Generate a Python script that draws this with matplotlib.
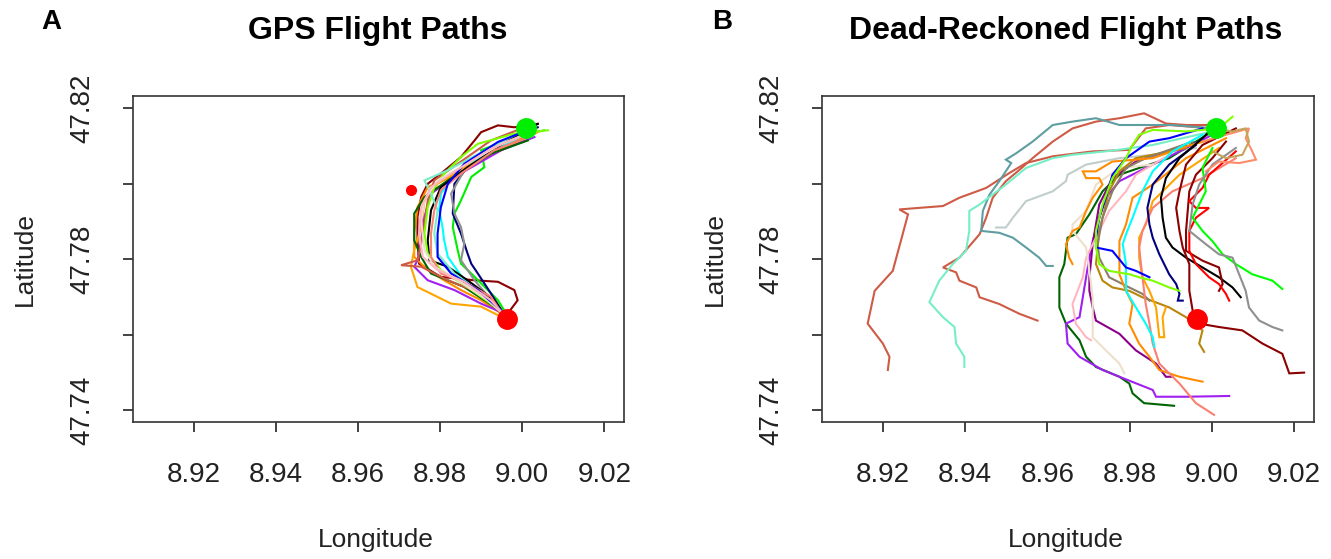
import matplotlib
matplotlib.use("Agg")
import matplotlib.pyplot as plt

plt.rcParams['font.family'] = ['Liberation Sans', 'DejaVu Sans']

# ---- data: (longitude, latitude) waypoints ----
start_point = (9.0010, 47.8147)      # green dot
end_point = (8.9963, 47.7642)        # red dot
gps_turn_point = (8.9729, 47.7984)   # small red dot, GPS panel

# GPS flight paths (panel A)
gps_darkred = [(9.0038, 47.8159), (8.9981, 47.8150), (8.9941, 47.8155), (8.9900, 47.8137), (8.9884, 47.8115),
               (8.9851, 47.8071), (8.9802, 47.8027), (8.9770, 47.8000), (8.9754, 47.7965), (8.9745, 47.7912),
               (8.9745, 47.7850), (8.9749, 47.7788), (8.9802, 47.7753), (8.9884, 47.7744), (8.9941, 47.7740),
               (8.9981, 47.7718), (8.9989, 47.7691), (8.9965, 47.7656)]
gps_green = [(9.0054, 47.8142), (8.9981, 47.8124), (8.9900, 47.8089), (8.9908, 47.8044), (8.9876, 47.8018),
             (8.9851, 47.7956), (8.9835, 47.7921), (8.9831, 47.7885), (8.9843, 47.7824), (8.9851, 47.7788),
             (8.9876, 47.7762), (8.9941, 47.7691), (8.9961, 47.7656)]
gps_navy = [(9.0038, 47.8150), (8.9965, 47.8115), (8.9867, 47.8044), (8.9835, 47.8000), (8.9831, 47.7921),
            (8.9851, 47.7868), (8.9867, 47.7815), (8.9876, 47.7788), (8.9892, 47.7762), (8.9924, 47.7709),
            (8.9949, 47.7665)]
gps_gray = [(9.0030, 47.8142), (8.9941, 47.8106), (8.9859, 47.8036), (8.9827, 47.7974), (8.9835, 47.7921),
            (8.9851, 47.7885), (8.9859, 47.7841), (8.9851, 47.7797), (8.9884, 47.7744), (8.9932, 47.7682),
            (8.9957, 47.7656)]
gps_cyan = [(9.0030, 47.8133), (8.9941, 47.8097), (8.9843, 47.8036), (8.9802, 47.7974), (8.9798, 47.7930),
            (8.9806, 47.7885), (8.9810, 47.7850), (8.9819, 47.7806), (8.9859, 47.7744), (8.9932, 47.7674),
            (8.9957, 47.7647)]
gps_orange1 = [(9.0022, 47.8133), (8.9941, 47.8089), (8.9827, 47.8018), (8.9770, 47.7991), (8.9745, 47.7938),
               (8.9737, 47.7868), (8.9737, 47.7806), (8.9770, 47.7771), (8.9810, 47.7744), (8.9851, 47.7718),
               (8.9900, 47.7691), (8.9949, 47.7656)]
gps_orange2 = [(9.0038, 47.8137), (8.9965, 47.8097), (8.9859, 47.8044), (8.9794, 47.8000), (8.9762, 47.7956),
               (8.9754, 47.7885), (8.9737, 47.7824), (8.9729, 47.7780), (8.9745, 47.7726), (8.9827, 47.7682),
               (8.9900, 47.7674), (8.9949, 47.7647)]
gps_purple = [(9.0030, 47.8124), (8.9949, 47.8089), (8.9835, 47.8018), (8.9778, 47.7974), (8.9762, 47.7912),
              (8.9754, 47.7850), (8.9745, 47.7797), (8.9737, 47.7780), (8.9770, 47.7744), (8.9835, 47.7718),
              (8.9900, 47.7682), (8.9957, 47.7656)]
gps_darkgreen = [(9.0014, 47.8115), (8.9924, 47.8080), (8.9819, 47.8009), (8.9762, 47.7965), (8.9737, 47.7921),
                 (8.9737, 47.7850), (8.9754, 47.7806), (8.9778, 47.7762), (8.9859, 47.7726), (8.9957, 47.7656)]
gps_sienna = [(9.0006, 47.8150), (8.9924, 47.8115), (8.9843, 47.8053), (8.9786, 47.8009), (8.9770, 47.7956),
              (8.9762, 47.7894), (8.9754, 47.7841), (8.9745, 47.7797), (8.9705, 47.7784), (8.9754, 47.7780),
              (8.9819, 47.7744), (8.9900, 47.7709), (8.9949, 47.7656)]
gps_black = [(9.0038, 47.8159), (8.9965, 47.8115), (8.9867, 47.8044), (8.9802, 47.7991), (8.9778, 47.7930),
             (8.9770, 47.7850), (8.9774, 47.7797), (8.9819, 47.7780), (8.9867, 47.7744), (8.9932, 47.7691),
             (8.9961, 47.7647)]
gps_chartreuse = [(9.0063, 47.8142), (8.9981, 47.8133), (8.9892, 47.8106), (8.9851, 47.8071), (8.9810, 47.8027),
                  (8.9786, 47.7991), (8.9770, 47.7938), (8.9762, 47.7868), (8.9770, 47.7815), (8.9802, 47.7771),
                  (8.9867, 47.7726), (8.9957, 47.7656)]
gps_aquamarine = [(9.0006, 47.8142), (8.9924, 47.8097), (8.9819, 47.8036), (8.9762, 47.8009), (8.9778, 47.7974),
                  (8.9794, 47.7930), (8.9786, 47.7868), (8.9794, 47.7815), (8.9835, 47.7762), (8.9900, 47.7709),
                  (8.9957, 47.7656)]
gps_salmon = [(9.0014, 47.8124), (8.9932, 47.8089), (8.9851, 47.8027), (8.9802, 47.7983), (8.9786, 47.7930),
              (8.9778, 47.7868), (8.9778, 47.7806), (8.9802, 47.7762), (8.9867, 47.7735), (8.9924, 47.7700),
              (8.9957, 47.7647)]
gps_tan = [(9.0022, 47.8137), (8.9949, 47.8106), (8.9851, 47.8044), (8.9794, 47.8009), (8.9762, 47.7956),
           (8.9754, 47.7903), (8.9762, 47.7824), (8.9786, 47.7780), (8.9843, 47.7744), (8.9916, 47.7691),
           (8.9957, 47.7651)]
gps_blue = [(9.0022, 47.8146), (8.9941, 47.8111), (8.9859, 47.8053), (8.9819, 47.8000), (8.9802, 47.7938),
            (8.9794, 47.7868), (8.9794, 47.7806), (8.9827, 47.7762), (8.9892, 47.7718), (8.9957, 47.7656)]
gps_pink = [(9.0014, 47.8133), (8.9924, 47.8093), (8.9827, 47.8027), (8.9778, 47.7991), (8.9754, 47.7938),
            (8.9749, 47.7868), (8.9758, 47.7806), (8.9794, 47.7771), (8.9859, 47.7740), (8.9924, 47.7691),
            (8.9957, 47.7651)]

# Dead-reckoned flight paths (panel B)
dr_sienna1 = [(9.0001, 47.8147), (8.9896, 47.8156), (8.9839, 47.8147), (8.9799, 47.8090), (8.9710, 47.8086),
              (8.9613, 47.8073), (8.9548, 47.8055), (8.9508, 47.8029), (8.9451, 47.7989), (8.9386, 47.7963),
              (8.9346, 47.7941), (8.9240, 47.7932), (8.9261, 47.7919), (8.9248, 47.7866), (8.9224, 47.7769),
              (8.9180, 47.7716), (8.9163, 47.7629), (8.9200, 47.7576), (8.9216, 47.7541), (8.9212, 47.7506)]
dr_sienna2 = [(9.0001, 47.8156), (8.9937, 47.8156), (8.9888, 47.8160), (8.9835, 47.8187), (8.9775, 47.8174),
              (8.9718, 47.8165), (8.9661, 47.8147), (8.9613, 47.8112), (8.9564, 47.8068), (8.9532, 47.8037),
              (8.9499, 47.8007), (8.9467, 47.7963), (8.9451, 47.7910), (8.9435, 47.7866), (8.9386, 47.7804),
              (8.9346, 47.7778), (8.9378, 47.7765), (8.9386, 47.7743), (8.9427, 47.7725), (8.9435, 47.7699),
              (8.9483, 47.7681), (8.9532, 47.7655), (8.9576, 47.7637)]
dr_cadetblue = [(9.0001, 47.8147), (8.9904, 47.8156), (8.9823, 47.8156), (8.9775, 47.8156), (8.9718, 47.8174),
                (8.9661, 47.8165), (8.9613, 47.8156), (8.9564, 47.8112), (8.9524, 47.8081), (8.9499, 47.8064),
                (8.9512, 47.8055), (8.9483, 47.8007), (8.9459, 47.7971), (8.9443, 47.7928), (8.9439, 47.7875),
                (8.9483, 47.7870), (8.9516, 47.7857), (8.9548, 47.7831), (8.9580, 47.7804), (8.9597, 47.7782),
                (8.9613, 47.7782)]
dr_aquamarine = [(9.0001, 47.8139), (8.9856, 47.8103), (8.9758, 47.8088), (8.9661, 47.8077), (8.9613, 47.8068),
                 (8.9548, 47.8042), (8.9499, 47.7998), (8.9435, 47.7945), (8.9410, 47.7928), (8.9410, 47.7875),
                 (8.9402, 47.7822), (8.9370, 47.7787), (8.9337, 47.7743), (8.9313, 47.7686), (8.9346, 47.7646),
                 (8.9374, 47.7620), (8.9378, 47.7576), (8.9398, 47.7541), (8.9398, 47.7514)]
dr_silver = [(8.9961, 47.8095), (8.9856, 47.8077), (8.9775, 47.8068), (8.9694, 47.8051), (8.9649, 47.8024),
             (8.9645, 47.8007), (8.9613, 47.7980), (8.9548, 47.7954), (8.9516, 47.7910), (8.9499, 47.7884),
             (8.9475, 47.7884)]
dr_darkgreen = [(9.0001, 47.8139), (8.9896, 47.8068), (8.9823, 47.8042), (8.9775, 47.8024), (8.9734, 47.7980),
                (8.9702, 47.7919), (8.9669, 47.7866), (8.9649, 47.7857), (8.9641, 47.7787), (8.9629, 47.7752),
                (8.9629, 47.7672), (8.9645, 47.7629), (8.9678, 47.7585), (8.9694, 47.7541), (8.9718, 47.7514),
                (8.9775, 47.7488), (8.9799, 47.7470), (8.9807, 47.7444), (8.9835, 47.7418), (8.9908, 47.7411)]
dr_purple = [(9.0001, 47.8130), (8.9921, 47.8086), (8.9839, 47.8042), (8.9775, 47.8007), (8.9742, 47.7963),
             (8.9726, 47.7910), (8.9710, 47.7848), (8.9702, 47.7804), (8.9694, 47.7752), (8.9686, 47.7699),
             (8.9678, 47.7646), (8.9645, 47.7629), (8.9649, 47.7576), (8.9678, 47.7541), (8.9734, 47.7506),
             (8.9775, 47.7488), (8.9856, 47.7453), (8.9864, 47.7435), (8.9937, 47.7435), (9.0042, 47.7437)]
dr_darkmagenta = [(8.9937, 47.8103), (8.9815, 47.8059), (8.9758, 47.8015), (8.9726, 47.7945), (8.9710, 47.7840),
                  (8.9702, 47.7752), (8.9702, 47.7716), (8.9710, 47.7672), (8.9718, 47.7637), (8.9775, 47.7602),
                  (8.9815, 47.7558), (8.9864, 47.7523), (8.9888, 47.7488), (8.9904, 47.7488)]
dr_pink = [(8.9896, 47.8077), (8.9815, 47.8024), (8.9791, 47.7980), (8.9750, 47.7928), (8.9726, 47.7875),
           (8.9694, 47.7804), (8.9686, 47.7752), (8.9661, 47.7681), (8.9669, 47.7629), (8.9694, 47.7593),
           (8.9706, 47.7585)]
dr_bisque = [(8.9856, 47.8051), (8.9775, 47.8042), (8.9718, 47.7998), (8.9694, 47.7928), (8.9661, 47.7892),
             (8.9661, 47.7875), (8.9694, 47.7831), (8.9702, 47.7769), (8.9710, 47.7699), (8.9710, 47.7593),
             (8.9742, 47.7558), (8.9775, 47.7523), (8.9787, 47.7497)]
dr_goldenrod = [(8.9937, 47.8095), (8.9815, 47.8068), (8.9775, 47.8033), (8.9750, 47.7980), (8.9726, 47.7875),
                (8.9718, 47.7787), (8.9734, 47.7743), (8.9758, 47.7725), (8.9799, 47.7716), (8.9831, 47.7699),
                (8.9896, 47.7672), (8.9937, 47.7646), (8.9977, 47.7611), (8.9969, 47.7576), (8.9981, 47.7554)]
dr_wheat = [(8.9953, 47.8112), (8.9839, 47.8068), (8.9791, 47.8042), (8.9758, 47.7980), (8.9734, 47.7910),
            (8.9722, 47.7840), (8.9726, 47.7804), (8.9750, 47.7752), (8.9799, 47.7725), (8.9831, 47.7708),
            (8.9848, 47.7690)]
dr_orange1 = [(9.0009, 47.8121), (8.9937, 47.8099), (8.9856, 47.8068), (8.9758, 47.8059), (8.9718, 47.8033),
              (8.9686, 47.8033), (8.9694, 47.8015), (8.9726, 47.8015), (8.9734, 47.7998), (8.9710, 47.7963),
              (8.9694, 47.7928), (8.9678, 47.7884), (8.9661, 47.7875), (8.9653, 47.7857), (8.9645, 47.7840),
              (8.9653, 47.7804), (8.9661, 47.7787)]
dr_orange2 = [(9.0034, 47.8121), (8.9937, 47.8068), (8.9856, 47.7998), (8.9807, 47.7963), (8.9791, 47.7892),
              (8.9775, 47.7848), (8.9775, 47.7760), (8.9791, 47.7716), (8.9807, 47.7681), (8.9799, 47.7629),
              (8.9823, 47.7576), (8.9848, 47.7541), (8.9872, 47.7506), (8.9921, 47.7488), (8.9977, 47.7475)]
dr_orange3 = [(9.0017, 47.8095), (8.9921, 47.8024), (8.9856, 47.7954), (8.9839, 47.7892), (8.9823, 47.7857),
              (8.9823, 47.7804), (8.9831, 47.7752), (8.9848, 47.7716), (8.9864, 47.7672), (8.9872, 47.7593),
              (8.9884, 47.7593), (8.9880, 47.7646), (8.9888, 47.7672)]
dr_salmon = [(9.0058, 47.8068), (8.9977, 47.8015), (8.9904, 47.7980), (8.9856, 47.7936), (8.9831, 47.7875),
             (8.9823, 47.7831), (8.9831, 47.7752), (8.9839, 47.7681), (8.9848, 47.7629), (8.9856, 47.7576),
             (8.9872, 47.7523), (8.9921, 47.7470), (8.9961, 47.7418), (9.0005, 47.7387)]
dr_cyan = [(8.9977, 47.8130), (8.9904, 47.8086), (8.9856, 47.8033), (8.9831, 47.7980), (8.9807, 47.7910),
           (8.9791, 47.7866), (8.9783, 47.7840), (8.9791, 47.7787), (8.9791, 47.7716), (8.9815, 47.7672),
           (8.9839, 47.7629), (8.9856, 47.7593), (8.9860, 47.7567)]
dr_blue = [(8.9977, 47.8147), (8.9896, 47.8121), (8.9848, 47.8112), (8.9791, 47.8068), (8.9758, 47.8024),
           (8.9742, 47.7963), (8.9726, 47.7910), (8.9718, 47.7857), (8.9718, 47.7831), (8.9758, 47.7822),
           (8.9791, 47.7778), (8.9815, 47.7769), (8.9848, 47.7752)]
dr_navy = [(8.9961, 47.8103), (8.9896, 47.8051), (8.9856, 47.7998), (8.9843, 47.7936), (8.9848, 47.7892),
           (8.9856, 47.7857), (8.9872, 47.7813), (8.9896, 47.7760), (8.9913, 47.7734), (8.9921, 47.7708),
           (8.9917, 47.7690), (8.9929, 47.7690)]
dr_black = [(9.0017, 47.8165), (8.9977, 47.8121), (8.9921, 47.8068), (8.9888, 47.8015), (8.9876, 47.7963),
            (8.9880, 47.7910), (8.9888, 47.7857), (8.9904, 47.7831), (8.9937, 47.7804), (8.9977, 47.7778),
            (9.0017, 47.7752), (9.0050, 47.7725), (9.0070, 47.7699)]
dr_darkred1 = [(9.0058, 47.8147), (8.9977, 47.8103), (8.9937, 47.8051), (8.9921, 47.7980), (8.9913, 47.7936),
               (8.9921, 47.7875), (8.9929, 47.7831), (8.9945, 47.7787), (8.9945, 47.7716), (8.9953, 47.7664),
               (8.9969, 47.7629), (9.0017, 47.7620), (9.0074, 47.7611), (9.0123, 47.7576), (9.0171, 47.7549),
               (9.0188, 47.7497), (9.0224, 47.7499)]
dr_darkred2 = [(9.0034, 47.8112), (9.0001, 47.8068), (8.9961, 47.8024), (8.9945, 47.7980), (8.9937, 47.7875),
               (8.9937, 47.7822), (8.9977, 47.7796), (9.0017, 47.7778), (9.0026, 47.7734), (9.0017, 47.7716)]
dr_red = [(9.0058, 47.8086), (8.9993, 47.8024), (8.9977, 47.7989), (8.9945, 47.7954), (8.9961, 47.7936),
          (8.9993, 47.7936), (8.9961, 47.7910), (8.9945, 47.7875), (8.9945, 47.7822), (8.9961, 47.7787),
          (8.9993, 47.7752), (9.0017, 47.7734), (9.0034, 47.7708), (9.0042, 47.7690)]
dr_green = [(9.0001, 47.8095), (8.9977, 47.8042), (8.9985, 47.7980), (8.9969, 47.7945), (8.9953, 47.7910),
            (8.9977, 47.7875), (9.0001, 47.7848), (9.0026, 47.7813), (9.0058, 47.7787), (9.0098, 47.7760),
            (9.0147, 47.7743), (9.0171, 47.7721)]
dr_chartreuse = [(9.0050, 47.8178), (9.0017, 47.8147), (8.9937, 47.8139), (8.9856, 47.8143), (8.9823, 47.8130),
                 (8.9807, 47.8103), (8.9791, 47.8068), (8.9758, 47.8015), (8.9734, 47.7945), (8.9718, 47.7875),
                 (8.9718, 47.7831), (8.9726, 47.7787), (8.9750, 47.7769), (8.9799, 47.7760), (8.9823, 47.7752),
                 (8.9856, 47.7743), (8.9896, 47.7725), (8.9921, 47.7716)]
dr_gray = [(9.0058, 47.8095), (9.0001, 47.8051), (8.9969, 47.7998), (8.9953, 47.7945), (8.9945, 47.7875),
           (8.9985, 47.7840), (9.0017, 47.7813), (9.0050, 47.7804), (9.0066, 47.7760), (9.0082, 47.7716),
           (9.0090, 47.7672), (9.0115, 47.7637), (9.0147, 47.7620), (9.0171, 47.7611)]
dr_lightsalmon = [(8.9977, 47.8112), (9.0034, 47.8130), (9.0090, 47.8147), (9.0082, 47.8121), (9.0098, 47.8086),
                  (9.0107, 47.8064), (9.0066, 47.8055), (9.0017, 47.8059), (8.9985, 47.8033)]
dr_khaki = [(9.0001, 47.8147), (9.0050, 47.8139), (9.0082, 47.8147), (9.0090, 47.8112), (9.0074, 47.8077),
            (9.0034, 47.8068), (9.0001, 47.8086)]

x_ticks = [8.92, 8.94, 8.96, 8.98, 9.00, 9.02]
y_ticks = [47.74, 47.76, 47.78, 47.80, 47.82]
y_tick_labels = ['47.74', '', '47.78', '', '47.82']


def draw_panel(ax, paths):
    for pts, color in paths:
        lon = [p[0] for p in pts]
        lat = [p[1] for p in pts]
        ax.plot(lon, lat, color=color, lw=1.5, solid_joinstyle='miter')
    ax.set_xlim(8.9052, 9.0248)
    ax.set_ylim(47.7368, 47.8233)
    ax.set_xticks(x_ticks)
    ax.set_xticklabels([f'{v:.2f}' for v in x_ticks])
    ax.set_yticks(y_ticks)
    ax.set_yticklabels(y_tick_labels, rotation=90, va='center')
    ax.tick_params(axis='x', direction='out', length=7, width=1.2, pad=22,
                   labelsize=20, colors='#222222')
    ax.tick_params(axis='y', direction='out', length=7, width=1.2, pad=20,
                   labelsize=20, colors='#222222')
    for s in ax.spines.values():
        s.set_color('#333333')
        s.set_linewidth(1.2)


fig = plt.figure(figsize=(13.31, 5.59), dpi=100)
ax_a = fig.add_axes([0.0999, 0.2451, 0.3689, 0.5832])
ax_b = fig.add_axes([0.6176, 0.2451, 0.3696, 0.5832])

gps_paths = [
    (gps_darkred, '#8B0000'), (gps_green, '#00EE00'), (gps_navy, '#000080'), (gps_gray, '#8F8F8F'),
    (gps_cyan, '#00FFFF'), (gps_orange1, '#FF8C00'), (gps_orange2, '#FFA500'), (gps_purple, '#A020F0'),
    (gps_darkgreen, '#006400'), (gps_sienna, '#CD5B45'), (gps_black, '#000000'), (gps_chartreuse, '#7FFF00'),
    (gps_aquamarine, '#76EEC6'), (gps_salmon, '#FA8072'), (gps_tan, '#EEDFCC'), (gps_blue, '#0000FF'),
    (gps_pink, '#FFB6C1'),
]
dr_paths = [
    (dr_sienna1, '#CD5B45'), (dr_sienna2, '#CD5B45'), (dr_cadetblue, '#5F9EA0'), (dr_aquamarine, '#76EEC6'),
    (dr_silver, '#C1CDCD'), (dr_darkgreen, '#006400'), (dr_purple, '#A020F0'), (dr_darkmagenta, '#8B008B'),
    (dr_pink, '#FFB6C1'), (dr_bisque, '#EEDFCC'), (dr_goldenrod, '#B8860B'), (dr_wheat, '#8B7E66'),
    (dr_orange1, '#FF8C00'), (dr_orange2, '#FF8C00'), (dr_orange3, '#FFA500'), (dr_salmon, '#FA8072'),
    (dr_cyan, '#00FFFF'), (dr_blue, '#0000FF'), (dr_navy, '#000080'), (dr_black, '#000000'),
    (dr_darkred1, '#8B0000'), (dr_darkred2, '#8B0000'), (dr_red, '#FF0000'), (dr_green, '#00FF00'),
    (dr_chartreuse, '#7FFF00'), (dr_gray, '#8F8F8F'), (dr_lightsalmon, '#FF8C69'), (dr_khaki, '#C4A35A'),
]

draw_panel(ax_a, gps_paths)
draw_panel(ax_b, dr_paths)

ax_a.plot(*gps_turn_point, 'o', color='red', ms=7, zorder=5)
for ax in (ax_a, ax_b):
    ax.plot(*start_point, 'o', color='#00EE00', ms=14, zorder=6)
    ax.plot(*end_point, 'o', color='red', ms=14, zorder=6)

H = 559.0
W = 1331.0
fig.text(378 / W, 1 - 31 / H, 'GPS Flight Paths', ha='center', va='center',
         fontsize=23, fontweight='bold')
fig.text(1066 / W, 1 - 31 / H, 'Dead-Reckoned Flight Paths', ha='center', va='center',
         fontsize=23, fontweight='bold')
fig.text(51 / W, 1 - 22 / H, 'A', ha='center', va='center', fontsize=20, fontweight='bold')
fig.text(722 / W, 1 - 22 / H, 'B', ha='center', va='center', fontsize=20, fontweight='bold')
fig.text(376 / W, 1 - 540 / H, 'Longitude', ha='center', va='center', fontsize=19, color='#222222')
fig.text(1066 / W, 1 - 540 / H, 'Longitude', ha='center', va='center', fontsize=19, color='#222222')
fig.text(25 / W, 1 - 259 / H, 'Latitude', ha='center', va='center', rotation=90,
         fontsize=19, color='#222222')
fig.text(715 / W, 1 - 259 / H, 'Latitude', ha='center', va='center', rotation=90,
         fontsize=19, color='#222222')

fig.savefig('out.png', dpi=100, facecolor='white')
